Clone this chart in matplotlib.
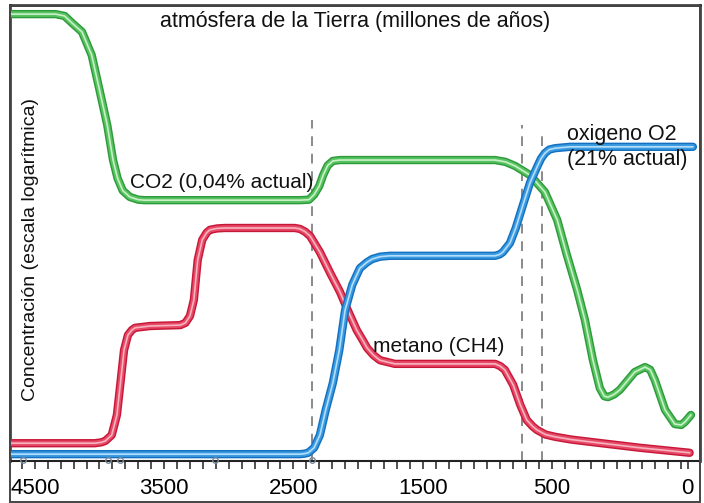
import matplotlib
matplotlib.use("Agg")
import matplotlib.pyplot as plt
from matplotlib.patches import Rectangle

plt.rcParams['font.family'] = ['Liberation Sans', 'DejaVu Sans']

# x: millones de años (axis runs from past to present), y: relative log concentration (0-100)
co2_ma = [4690, 4340, 4270, 4210, 4135, 4060, 4000, 3940, 3895, 3860, 3820, 3765, 3700, 3650,
          2450, 2380, 2340, 2300, 2270, 2235, 2195, 2140, 940, 860, 785, 670, 555, 460, 385,
          305, 245, 183, 130, 95, 67, 20, -25, -140, -220, -260, -295, -375, -450, -500, -530,
          -575]
co2_lvl = [98.0, 98.0, 97.6, 96.0, 94.1, 89.0, 81.4, 73.7, 66.0, 62.0, 59.3, 57.9, 57.3, 57.2,
           57.2, 57.3, 58.4, 60.3, 62.7, 64.8, 65.8, 66.0, 66.0, 65.6, 64.7, 62.7, 59.0, 52.9,
           45.2, 37.5, 30.9, 22.1, 16.0, 14.2, 14.0, 14.6, 15.6, 19.5, 20.6, 20.0, 17.8, 11.2,
           8.1, 7.9, 8.6, 10.1]

ch4_ma = [4690, 4035, 3985, 3955, 3905, 3865, 3835, 3810, 3780, 3750, 3725, 3610, 3375, 3335,
          3300, 3270, 3240, 3205, 3170, 3145, 3090, 3030, 2490, 2450, 2410, 2370, 2295, 2215,
          2140, 2080, 2010, 1960, 1930, 1880, 1830, 1715, 940, 900, 865, 800, 745, 695, 650,
          615, 550, 475, 350, 205, -180, -565]
ch4_lvl = [3.9, 3.9, 4.1, 4.4, 5.7, 10.1, 17.8, 24.3, 27.6, 28.7, 29.2, 29.6, 29.8, 30.3,
           31.8, 35.3, 44.1, 48.5, 50.1, 50.7, 51.0, 51.1, 51.1, 50.9, 50.3, 49.3, 45.8, 41.2,
           37.1, 33.1, 28.7, 26.3, 24.8, 23.2, 22.1, 21.3, 21.3, 20.8, 20.0, 16.7, 12.3, 9.0,
           7.6, 6.8, 5.8, 5.3, 4.7, 4.2, 2.9, 1.8]

o2_ma = [4690, 2450, 2415, 2385, 2340, 2295, 2250, 2195, 2145, 2100, 2045, 2010, 1985, 1930,
         1890, 1830, 1755, 940, 905, 880, 825, 780, 725, 670, 615, 585, 555, 520, 475, 360,
         -590]
o2_lvl = [1.5, 1.5, 1.6, 1.8, 2.9, 5.7, 11.2, 17.1, 24.3, 33.1, 38.6, 40.8, 42.3, 43.6,
          44.3, 44.8, 45.0, 45.0, 45.3, 45.8, 47.8, 51.1, 56.1, 61.0, 64.5, 66.3, 67.5, 68.3,
          68.6, 68.9, 68.9]

events_ma = [2355, 730, 575]           # dashed vertical lines
events_top = [74.8, 73.7, 72.6]
axis_marks_ma = [4590, 3935, 3840, 3105, 2355]

tick_pos = [4500, 3500, 2500, 1500, 500, -550]
tick_lbl = ['4500', '3500', '2500', '1500', '500', '0']

# (outer, mid, inner) colours of the "tube" lines
GREEN = ('#2f9a3c', '#58c461', '#c9f0c6')
RED = ('#c8183a', '#e64a66', '#f7b3c0')
BLUE = ('#1470c0', '#3a9be0', '#b5defa')

fig = plt.figure(figsize=(7.04, 5.03), dpi=100)
ax = fig.add_axes([10 / 704, 42 / 503, 690 / 704, 456 / 503])
ax.set_xlim(4692, -645)
ax.set_ylim(0, 100)


def tube(x, y, cols):
    kw = dict(solid_capstyle='round', solid_joinstyle='round')
    ax.plot(x, y, color=cols[0], lw=6.0, zorder=3, **kw)
    ax.plot(x, y, color=cols[1], lw=3.9, zorder=3, **kw)
    ax.plot(x, y, color=cols[2], lw=1.2, zorder=3, **kw)


for xm, top in zip(events_ma, events_top):
    ax.plot([xm, xm], [0, top], color='#8a8a8a', lw=1.4, ls=(0, (5, 4)), zorder=2)

tube(co2_ma, co2_lvl, GREEN)
tube(ch4_ma, ch4_lvl, RED)
tube(o2_ma, o2_lvl, BLUE)

ax.plot(axis_marks_ma, [0.3] * len(axis_marks_ma), 'o', ms=4, mfc='none', mec='#7a8a9a',
        mew=1, zorder=4, clip_on=False)

ax.text(0.5, 0.963, 'atmósfera de la Tierra (millones de años)', transform=ax.transAxes,
        ha='center', va='center', fontsize=15.5, color='#111111')
ax.text(3764, 61.0, 'CO2 (0,04% actual)', ha='left', va='center', fontsize=15, color='#111111', zorder=5)
ax.text(384, 71.6, 'oxigeno O2', ha='left', va='center', fontsize=15.5, color='#111111', zorder=5)
ax.text(384, 66.2, '(21% actual)', ha='left', va='center', fontsize=15.5, color='#111111', zorder=5)
ax.text(1884, 25.2, 'metano (CH4)', ha='left', va='center', fontsize=15, color='#111111', zorder=5)
ax.text(0.029, 0.463, 'Concentración (escala logarítmica)', transform=ax.transAxes, rotation=90,
        ha='center', va='center', fontsize=14, color='#111111')

ax.set_xticks(tick_pos)
ax.set_xticklabels(tick_lbl, fontsize=16)
ax.set_xticks(range(4600, -600, -100), minor=True)
ax.tick_params(axis='x', which='both', direction='out', length=6, width=1.2, color='#333333', pad=6)
ax.set_yticks([])

for side in ['left', 'right', 'top']:
    ax.spines[side].set_color('#222222')
    ax.spines[side].set_linewidth(1.8)
ax.spines['bottom'].set_color('#222222')
ax.spines['bottom'].set_linewidth(1.5)

# outer frame enclosing the tick labels
fig.add_artist(Rectangle((10 / 704, 1.5 / 503), 690 / 704, 496 / 503, transform=fig.transFigure,
                         fill=False, edgecolor='#444444', lw=1.4))

fig.savefig('out.png', dpi=100, facecolor='white')
